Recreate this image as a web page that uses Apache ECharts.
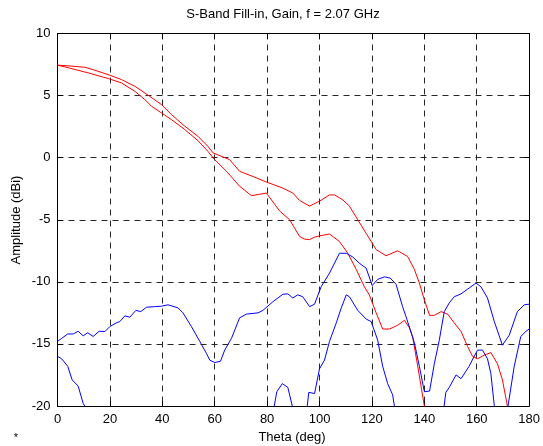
<!DOCTYPE html>
<html><head><meta charset="utf-8">
<script src="https://cdn.jsdelivr.net/npm/echarts@6/dist/echarts.min.js"></script>
<style>html,body{margin:0;padding:0;background:#fff}#c{width:543px;height:446px}</style>
</head><body><div id="c"></div>
<script>
var xTicks = [0, 20, 40, 60, 80, 100, 120, 140, 160, 180];
var yTicks = [-20, -15, -10, -5, 0, 5, 10];

var redUpperTheta = [0,5,10.5,14.3,20,24.4,29.5,34.6,39.7,43.5,48.6,53.6,57.4,59.4,65.7,69.5,75,79.7,86,89.8,92.4,96.2,100,103.8,105.7,108.9,111.4,114.6,117.8,121.6,125.4,129.8,133.6,136.2,138.1,140,142,143.8,146.4,148.9,151.4,154,156.5,158.4,160.3,162.9,165.4,167.9,169.8,171.7,174];
var redUpperAmp   = [7.45,7.38,7.28,7.04,6.64,6.29,5.75,5.03,4.27,3.47,2.53,1.72,0.91,0.38,-0.16,-1.1,-1.55,-1.96,-2.45,-2.85,-3.45,-3.9,-3.5,-3.0,-3.0,-3.4,-3.9,-5.0,-6.1,-7.4,-7.9,-7.5,-7.95,-9.0,-10.1,-11.45,-12.7,-12.7,-12.4,-12.6,-13.3,-14.0,-15.2,-16.0,-16.2,-15.9,-15.7,-16.6,-17.9,-20.0,-22.5];

var redLowerTheta = [0,3,6.7,11.7,15.5,19.4,24.4,29.5,33.3,35.9,39.7,43.5,48.6,53.6,57.4,59.8,64.5,69.5,74,77,79.7,84.8,88.6,92.4,94.3,96.2,98.1,100,103.8,107.6,110.8,114,117.1,119,121.6,124.1,126.7,129.8,132.4,134.3,135.5,137.4,140,141.5];
var redLowerAmp   = [7.45,7.3,7.1,6.83,6.6,6.37,6.02,5.35,4.68,4.14,3.6,3.06,2.26,1.37,0.51,-0.12,-1.1,-2.3,-3.06,-2.95,-2.85,-4.3,-5.0,-6.35,-6.56,-6.6,-6.4,-6.3,-6.15,-6.75,-7.7,-9.0,-10.4,-11.05,-12.5,-13.8,-13.8,-13.5,-13.1,-13.7,-14.4,-16.7,-20.0,-22.5];

var blueUpperTheta = [0,1.6,3.9,6,7.9,9.8,11.5,13.6,15.9,18.1,20,22.5,23.8,25.7,27.6,29.9,31.8,34,37.1,39.7,42.2,46,47.9,51.1,54.3,56.8,58.1,60,62.2,63.8,66.4,69.5,72.1,76.5,78.4,82.2,86,87.9,89.8,91.7,93.6,96.2,98.1,100.6,103.8,107.6,110.2,112.7,115.2,117.8,120.1,122.2,124.8,127,129.2,131.7,133,136.2,138.1,140,142,143.8,145.7,147.6,149.5,151.4,154,157.1,159.7,161.6,164.1,166.7,169.8,172.4,175.5,178.1,180];
var blueUpperAmp   = [-14.8,-14.55,-14.2,-14.2,-13.98,-14.35,-14.1,-14.4,-13.98,-14.0,-13.6,-13.3,-13.2,-12.74,-12.85,-12.3,-12.4,-12.04,-12.0,-11.96,-11.85,-12.1,-12.5,-13.6,-14.8,-15.75,-16.3,-16.5,-16.4,-15.5,-14.55,-12.9,-12.6,-12.5,-12.3,-11.6,-11.0,-10.97,-11.3,-11.05,-11.2,-12.0,-11.8,-10.4,-9.3,-7.7,-7.7,-8.0,-8.5,-8.9,-10.3,-9.8,-9.6,-9.7,-10.2,-12.0,-12.8,-14.9,-16.8,-18.85,-18.8,-16.6,-14.7,-12.4,-11.7,-11.2,-10.97,-10.5,-10.1,-10.4,-11.3,-13.2,-15.1,-14.3,-12.4,-11.85,-11.8];

var blueLowerTheta = [0,1.6,3.9,5.6,7.9,9.8,12.2,40,82.2,83.7,85.8,87.9,90.3,93,95.0,95.9,98.1,100,101.9,103.8,106.4,108.3,110.2,111.4,114.6,117.8,119.7,122.2,124.1,126,127.9,129,138,147.2,148.2,149.5,152.1,154,157.1,159,160.3,162.2,164.1,165.4,167,169,171.5,174.3,176.8,178.7,180];
var blueLowerAmp   = [-16.0,-16.2,-16.8,-17.9,-18.4,-19.8,-20.6,null,-20.6,-18.85,-18.2,-18.5,-20.6,null,-20.6,-18.9,-19.0,-17.0,-16.3,-14.8,-13.3,-12.1,-11.05,-11.2,-12.3,-13.0,-13.2,-14.7,-16.8,-18.2,-19.1,-20.6,null,-20.6,-18.9,-18.5,-17.5,-17.8,-16.8,-16.0,-15.5,-15.5,-16.2,-17.4,-20.6,null,-20.6,-16.8,-14.4,-14.0,-13.8];

function pairs(t, a) { return t.map(function (v, i) { return [v, a[i] === null ? null : a[i]]; }); }

var chart = echarts.init(document.getElementById('c'), null, {renderer: 'canvas'});
var FONT = 'Liberation Sans, Arial, Helvetica, sans-serif';
var FS = 13;
var gridStyle = {show: true, lineStyle: {color: '#262626', width: 1, type: [6, 5]}};
var baseX = {type: 'value', min: 0, max: 180, interval: 20,
  axisLine: {show: true, onZero: false, lineStyle: {color: '#000', width: 1}},
  axisTick: {show: true, inside: true, length: 5, lineStyle: {color: '#000'}},
  splitLine: {show: false}};
var baseY = {type: 'value', min: -20, max: 10, interval: 5,
  axisLine: {show: true, onZero: false, lineStyle: {color: '#000', width: 1}},
  axisTick: {show: true, inside: true, length: 5, lineStyle: {color: '#000'}},
  splitLine: {show: false}};

function lineSeries(data, color) {
  return {type: 'line', data: data, showSymbol: false, symbol: 'none', clip: true,
    connectNulls: false, animation: false, smooth: false,
    lineStyle: {color: color, width: 1}, itemStyle: {color: color}, z: 5};
}

chart.setOption({
  animation: false,
  backgroundColor: '#fff',
  grid: {left: 57.5, right: 13, top: 33.5, bottom: 40, containLabel: false},
  xAxis: [
    Object.assign({}, baseX, {position: 'bottom',
      splitLine: gridStyle,
      axisLabel: {show: true, color: '#000', fontSize: FS, fontFamily: FONT, margin: 7,
        formatter: function (v) { return xTicks.indexOf(v) >= 0 ? String(v) : ''; }}}),
    Object.assign({}, baseX, {position: 'top', axisLabel: {show: false}})
  ],
  yAxis: [
    Object.assign({}, baseY, {position: 'left',
      splitLine: gridStyle,
      axisLabel: {show: true, color: '#000', fontSize: FS, fontFamily: FONT, margin: 7,
        formatter: function (v) { return yTicks.indexOf(v) >= 0 ? String(v) : ''; }}}),
    Object.assign({}, baseY, {position: 'right', axisLabel: {show: false}})
  ],
  series: [
    lineSeries(pairs(redUpperTheta, redUpperAmp), '#ff0000'),
    lineSeries(pairs(redLowerTheta, redLowerAmp), '#ff0000'),
    lineSeries(pairs(blueUpperTheta, blueUpperAmp), '#0000ff'),
    lineSeries(pairs(blueLowerTheta, blueLowerAmp), '#0000ff')
  ],
  graphic: [
    {type: 'text', x: 283, y: 14, style: {text: 'S-Band Fill-in, Gain, f = 2.07 GHz', font: FS + 'px ' + FONT, fill: '#000', textAlign: 'center', textVerticalAlign: 'middle'}},
    {type: 'text', x: 292, y: 437, style: {text: 'Theta (deg)', font: FS + 'px ' + FONT, fill: '#000', textAlign: 'center', textVerticalAlign: 'middle'}},
    {type: 'text', x: 16, y: 220, rotation: Math.PI / 2, style: {text: 'Amplitude (dBi)', font: FS + 'px ' + FONT, fill: '#000', textAlign: 'center', textVerticalAlign: 'middle'}},
    {type: 'text', x: 16, y: 438, style: {text: '*', font: '11px ' + FONT, fill: '#000', textAlign: 'center', textVerticalAlign: 'middle'}}
  ]
});
</script>
</body></html>
